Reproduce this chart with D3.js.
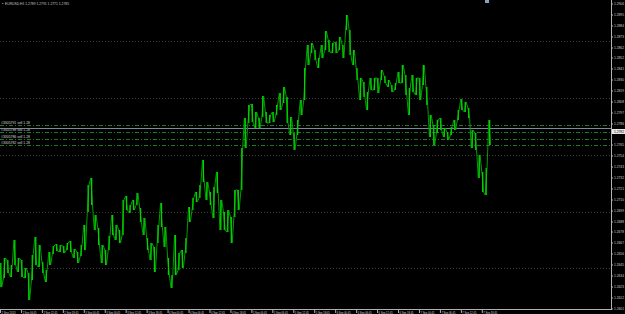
<!DOCTYPE html>
<html>
<head>
<meta charset="utf-8">
<script src="https://cdn.jsdelivr.net/npm/d3@7"></script>
<style>
  html, body { margin: 0; padding: 0; background: #000; }
  svg { display: block; }
  text { font-family: "Liberation Sans", Arial, sans-serif; }
</style>
</head>
<body>
<script>
// price samples, one per hour
var highs = [1.2647,1.2652,1.2650,1.2645,1.2670,1.2652,1.2650,1.2642,1.2637,1.2655,
  1.2673,1.2665,1.2648,1.2640,1.2658,1.2664,1.2666,1.2665,1.2664,1.2667,
  1.2669,1.2661,1.2658,1.2665,1.2685,1.2725,1.2732,1.2695,1.2682,1.2665,
  1.2660,1.2674,1.2695,1.2685,1.2680,1.2710,1.2714,1.2705,1.2710,1.2717,
  1.2702,1.2692,1.2672,1.2667,1.2663,1.2685,1.2707,1.2683,1.2652,1.2635,
  1.2675,1.2657,1.2660,1.2672,1.2703,1.2712,1.2718,1.2725,1.2750,1.2728,
  1.2718,1.2723,1.2738,1.2710,1.2698,1.2700,1.2693,1.2720,1.2720,1.2762,
  1.2792,1.2805,1.2806,1.2798,1.2792,1.2814,1.2798,1.2795,1.2798,1.2805,
  1.2817,1.2823,1.2813,1.2793,1.2777,1.2790,1.2810,1.2842,1.2865,1.2867,
  1.2860,1.2852,1.2865,1.2879,1.2870,1.2867,1.2868,1.2873,1.2865,1.2895,
  1.2880,1.2860,1.2842,1.2832,1.2828,1.2818,1.2832,1.2832,1.2832,1.2840,
  1.2834,1.2830,1.2825,1.2827,1.2838,1.2845,1.2835,1.2822,1.2835,1.2832,
  1.2832,1.2845,1.2823,1.2795,1.2785,1.2790,1.2792,1.2782,1.2778,1.2783,
  1.2790,1.2800,1.2811,1.2808,1.2802,1.2780,1.2777,1.2755,1.2738,1.2742,
  1.2790];
var lows = [1.2623,1.2632,1.2637,1.2633,1.2645,1.2638,1.2633,1.2632,1.2610,1.2630,
  1.2645,1.2643,1.2637,1.2628,1.2645,1.2656,1.2659,1.2658,1.2657,1.2660,
  1.2658,1.2652,1.2647,1.2654,1.2660,1.2698,1.2705,1.2680,1.2665,1.2647,
  1.2645,1.2660,1.2675,1.2670,1.2667,1.2675,1.2700,1.2697,1.2700,1.2705,
  1.2688,1.2675,1.2660,1.2650,1.2638,1.2667,1.2683,1.2663,1.2635,1.2622,
  1.2635,1.2640,1.2642,1.2657,1.2688,1.2700,1.2708,1.2712,1.2728,1.2710,
  1.2705,1.2692,1.2717,1.2680,1.2680,1.2678,1.2667,1.2693,1.2700,1.2720,
  1.2762,1.2787,1.2788,1.2782,1.2782,1.2793,1.2787,1.2787,1.2788,1.2795,
  1.2800,1.2807,1.2787,1.2775,1.2760,1.2775,1.2795,1.2810,1.2845,1.2857,
  1.2850,1.2842,1.2852,1.2860,1.2858,1.2857,1.2857,1.2860,1.2852,1.2880,
  1.2855,1.2845,1.2830,1.2810,1.2813,1.2800,1.2820,1.2820,1.2817,1.2830,
  1.2827,1.2823,1.2818,1.2820,1.2827,1.2827,1.2815,1.2795,1.2818,1.2815,
  1.2810,1.2825,1.2805,1.2773,1.2765,1.2777,1.2780,1.2773,1.2770,1.2775,
  1.2780,1.2790,1.2800,1.2798,1.2792,1.2762,1.2760,1.2732,1.2718,1.2715,
  1.2765];

var priceTicks = ['1.2906','1.2895','1.2884','1.2873','1.2862','1.2852','1.2841','1.2830','1.2819','1.2808',
  '1.2797','1.2786','1.2765','1.2754','1.2743','1.2732','1.2721','1.2710','1.2699','1.2688',
  '1.2678','1.2667','1.2656','1.2645','1.2634','1.2623','1.2612','1.2601'];
var gridPrices = [1.2869, 1.2812, 1.2755, 1.2698, 1.2642];

// one label every 6 bars
var timeLabels = ['2 Sep 2013','2 Sep 06:45','2 Sep 12:45','2 Sep 18:45','3 Sep 00:45','3 Sep 06:45',
  '3 Sep 12:45','3 Sep 18:45','4 Sep 00:45','4 Sep 06:45','4 Sep 12:45','4 Sep 18:45',
  '5 Sep 00:45','5 Sep 06:45','5 Sep 12:45','5 Sep 18:45','6 Sep 00:45','6 Sep 06:45',
  '6 Sep 12:45','6 Sep 18:45','7 Sep 00:45','7 Sep 06:45','7 Sep 12:45','7 Sep 18:45'];

var orderNames = ['#3305791 sell 1.28','#3305788 sell 1.28','#3305786 sell 1.28','#3305782 sell 1.28'];
var orderPrices = [1.2785, 1.2778, 1.2771, 1.2765];
var bidPrice = 1.2782;
var header = 'EURUSD,H1  1.2789 1.2791 1.2771 1.2785';

var width = 625, height = 314;
var plotRight = 611, plotBottom = 309;

var svg = d3.select('body').append('svg')
  .attr('width', width).attr('height', height);
svg.append('rect').attr('width', width).attr('height', height).attr('fill', '#000');

var x = d3.scaleLinear().domain([0, 175]).range([0, plotRight]);
var y = d3.scaleLinear().domain([1.2601, 1.2910]).range([plotBottom, 0]);

// grid
svg.append('g').selectAll('line').data(gridPrices).enter().append('line')
  .attr('x1', 0).attr('x2', plotRight)
  .attr('y1', d => Math.round(y(d)) + 0.5).attr('y2', d => Math.round(y(d)) + 0.5)
  .attr('stroke', '#3a3a3a').attr('stroke-width', 1).attr('stroke-dasharray', '1,2');

// order lines
svg.append('g').selectAll('line').data(orderPrices).enter().append('line')
  .attr('x1', 0).attr('x2', plotRight)
  .attr('y1', d => Math.round(y(d)) + 0.5).attr('y2', d => Math.round(y(d)) + 0.5)
  .attr('stroke', '#1f7a1f').attr('stroke-width', 1).attr('stroke-dasharray', '4,2,1,2');
svg.append('g').selectAll('text').data(orderNames).enter().append('text')
  .attr('x', 1).attr('y', (d, i) => y(orderPrices[i]) - 1)
  .attr('font-size', 3.6).attr('fill', '#d8d8d8')
  .attr('textLength', 29).attr('lengthAdjust', 'spacingAndGlyphs')
  .text(d => d);

// bid line
svg.append('line')
  .attr('x1', 0).attr('x2', plotRight)
  .attr('y1', Math.round(y(bidPrice)) + 0.5).attr('y2', Math.round(y(bidPrice)) + 0.5)
  .attr('stroke', '#7d8a99').attr('stroke-width', 1);

// price bars
var pts = [];
highs.forEach(function (h, i) {
  if (i % 2 == 0) { pts.push([x(i), y(h)]); pts.push([x(i + 0.5), y(lows[i])]); }
  else { pts.push([x(i), y(lows[i])]); pts.push([x(i + 0.5), y(h)]); }
});
svg.append('path')
  .attr('d', d3.line()(pts))
  .attr('fill', 'none').attr('stroke', '#009c00').attr('stroke-width', 1);
svg.append('g').selectAll('line').data(highs).enter().append('line')
  .attr('x1', (d, i) => x(i + 0.25)).attr('x2', (d, i) => x(i + 0.25))
  .attr('y1', d => y(d)).attr('y2', (d, i) => y(lows[i]))
  .attr('stroke', '#00d400').attr('stroke-width', 1.3);

// axes
svg.append('line').attr('x1', plotRight + 0.5).attr('x2', plotRight + 0.5)
  .attr('y1', 0).attr('y2', plotBottom + 1).attr('stroke', '#b0b0b0');
svg.append('line').attr('x1', 0).attr('x2', plotRight + 1)
  .attr('y1', plotBottom + 0.5).attr('y2', plotBottom + 0.5).attr('stroke', '#b0b0b0');

var yt = svg.append('g').selectAll('g').data(priceTicks).enter().append('g')
  .attr('transform', d => 'translate(' + plotRight + ',' + y(+d) + ')');
yt.append('line').attr('x1', 0).attr('x2', 2).attr('stroke', '#b0b0b0');
yt.append('text').attr('x', 3).attr('y', 1.4)
  .attr('font-size', 4).attr('fill', '#d0d0d0')
  .attr('textLength', 10).attr('lengthAdjust', 'spacingAndGlyphs')
  .text(d => d);

// bid label
svg.append('rect').attr('x', plotRight + 1).attr('y', y(bidPrice) + 1)
  .attr('width', 13).attr('height', 5).attr('fill', '#e8e8e8');
svg.append('text').attr('x', plotRight + 3).attr('y', y(bidPrice) + 5)
  .attr('font-size', 4).attr('fill', '#000')
  .attr('textLength', 10).attr('lengthAdjust', 'spacingAndGlyphs')
  .text(bidPrice.toFixed(4));

var xt = svg.append('g').selectAll('g').data(timeLabels).enter().append('g')
  .attr('transform', (d, i) => 'translate(' + x(i * 6) + ',' + plotBottom + ')');
xt.append('line').attr('x1', 0.5).attr('x2', 0.5).attr('y1', 0).attr('y2', 4).attr('stroke', '#b0b0b0');
xt.append('text').attr('x', 1.5).attr('y', 4.6)
  .attr('font-size', 4).attr('fill', '#d0d0d0')
  .attr('textLength', 14).attr('lengthAdjust', 'spacingAndGlyphs')
  .text(d => d);

// header
svg.append('text').attr('x', 2).attr('y', 5).attr('font-size', 4).attr('fill', '#c8c8c8')
  .text('\u2022');
svg.append('text').attr('x', 5).attr('y', 5)
  .attr('font-size', 3.8).attr('fill', '#c8c8c8')
  .attr('textLength', 64).attr('lengthAdjust', 'spacingAndGlyphs')
  .text(header);
svg.append('rect').attr('x', 485).attr('y', 0).attr('width', 4).attr('height', 3).attr('fill', '#8ea0c0');
</script>
</body>
</html>
